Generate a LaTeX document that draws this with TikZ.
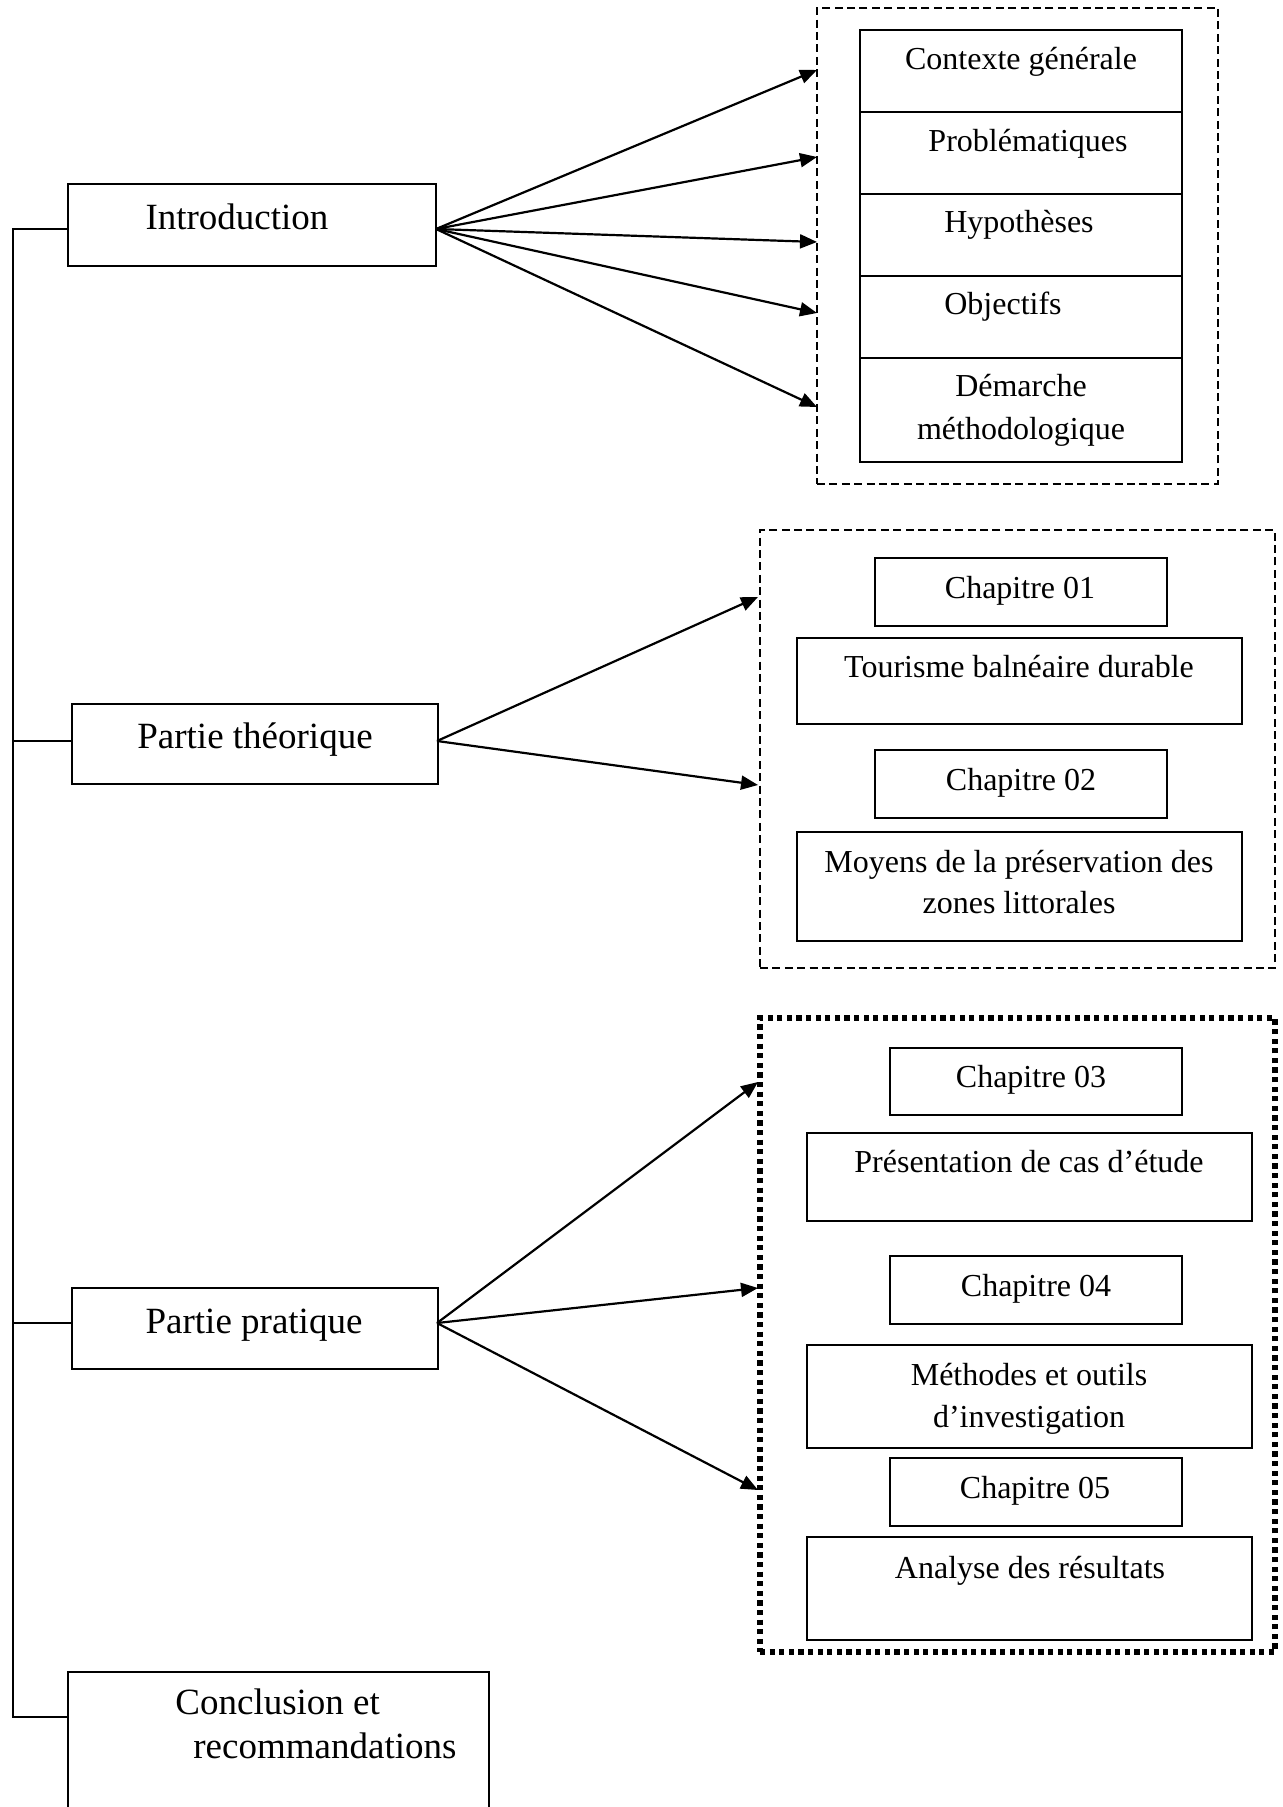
\documentclass[tikz,border=0pt]{standalone}
\usepackage{fontspec}
\setmainfont{Liberation Serif}
\usetikzlibrary{arrows.meta}
\begin{document}
\begin{tikzpicture}[x=0.5pt,y=-0.5pt,
  box/.style={draw, line width=1pt, rectangle, inner sep=0pt},
  cell/.style={draw, line width=1pt, rectangle, inner sep=0pt, minimum width=161pt},
  chapbox/.style={draw, line width=1pt, rectangle, inner sep=0pt, minimum width=146pt, minimum height=34pt},
  widebox/.style={draw, line width=1pt, rectangle, inner sep=0pt, minimum width=222.5pt},
  dashgrp/.style={draw, line width=0.7pt, dash pattern=on 4pt off 2.2pt, rectangle, inner sep=0pt},
  dotgrp/.style={draw, line width=2.7pt, dash pattern=on 2.6pt off 2.2pt, rectangle, inner sep=0pt},
  arr/.style={line width=1.1pt, -{Triangle[length=8.5pt,width=7pt]}},
  branch/.style={line width=0.8pt},
  bigtxt/.style={anchor=base, inner sep=0pt, font=\fontsize{18.5}{22}\selectfont},
  smalltxt/.style={anchor=base, inner sep=0pt, font=\fontsize{16}{20}\selectfont}]
\useasboundingbox (0,0) rectangle (1282,1807);
\clip (0,0) rectangle (1282,1807);
\fill[white] (0,0) rectangle (1282,1807);

% main boxes
\node[box, minimum width=184pt, minimum height=41pt] (intro) at (252,225) {};
\node[box, minimum width=183pt, minimum height=40pt] (theo) at (255,744) {};
\node[box, minimum width=183pt, minimum height=40.5pt] (prat) at (255,1328.5) {};
\node[box, minimum width=210.5pt, minimum height=89pt] (concl) at (278.5,1761) {};

\node[bigtxt] (introT) at (237,230) {Introduction};
\node[bigtxt] (theoT) at (255,748) {Partie théorique};
\node[bigtxt] (pratT) at (254,1333) {Partie pratique};
\node[bigtxt, anchor=base west] (conclA) at (175,1714) {Conclusion et};
\node[bigtxt, anchor=base west] (conclB) at (193,1758) {recommandations};

% left spine
\coordinate (b1) at (12,229);
\coordinate (b2) at (12,741);
\coordinate (b3) at (12,1323);
\coordinate (b4) at (12,1717);
\draw[branch] (13,229) -- (13,1717);
\draw[branch] (b1) -- (b1 -| intro.west);
\draw[branch] (b2) -- (b2 -| theo.west);
\draw[branch] (b3) -- (b3 -| prat.west);
\draw[branch] (b4) -- (b4 -| concl.west);

% group 1
\node[dashgrp, minimum width=200.5pt, minimum height=238pt] (grp1) at (1017.5,246) {};
\node[cell, minimum height=41pt] (c1) at (1021,71) {};
\node[cell, minimum height=41pt] (c2) at (1021,153) {};
\node[cell, minimum height=41pt] (c3) at (1021,235) {};
\node[cell, minimum height=41pt] (c4) at (1021,317) {};
\node[cell, minimum height=52pt] (c5) at (1021,410) {};
\node[smalltxt] (c1T) at (1021,70) {Contexte générale};
\node[smalltxt] (c2T) at (1028,152) {Problématiques};
\node[smalltxt] (c3T) at (1019,233) {Hypothèses};
\node[smalltxt] (c4T) at (1003,315) {Objectifs};
\node[smalltxt] (c5A) at (1021,397) {Démarche};
\node[smalltxt] (c5B) at (1021,440) {méthodologique};

\coordinate (s1) at (436,229);
\coordinate (t11) at (817,70);
\coordinate (t12) at (817,157);
\coordinate (t13) at (817,242);
\coordinate (t14) at (817,313);
\coordinate (t15) at (817,407);
\draw[arr] (s1) -- (t11);
\draw[arr] (s1) -- (t12);
\draw[arr] (s1) -- (t13);
\draw[arr] (s1) -- (t14);
\draw[arr] (s1) -- (t15);

% group 2
\node[dashgrp, minimum width=257.5pt, minimum height=219pt] (grp2) at (1017.5,749) {};
\node[chapbox] (ch1) at (1021,592) {};
\node[widebox, minimum height=43pt] (tour) at (1019.5,681) {};
\node[chapbox] (ch2) at (1021,784) {};
\node[widebox, minimum height=54.5pt] (moy) at (1019.5,886.5) {};
\node[smalltxt] (ch1T) at (1020,598) {Chapitre 01};
\node[smalltxt] (tourT) at (1019,677) {Tourisme balnéaire durable};
\node[smalltxt] (ch2T) at (1021,790) {Chapitre 02};
\node[smalltxt] (moyA) at (1019,872) {Moyens de la préservation des};
\node[smalltxt] (moyB) at (1019,913) {zones littorales};

\coordinate (s2) at (437,741);
\coordinate (t21) at (758,597);
\coordinate (t22) at (758,785);
\draw[arr] (s2) -- (t21);
\draw[arr] (s2) -- (t22);

% group 3
\node[dotgrp, minimum width=257.5pt, minimum height=317pt] (grp3) at (1017.5,1335) {};
\node[chapbox, minimum height=33.5pt] (ch3) at (1036,1081.5) {};
\node[widebox, minimum height=44pt] (pres) at (1029.5,1177) {};
\node[chapbox] (ch4) at (1036,1290) {};
\node[widebox, minimum height=51.5pt] (meth) at (1029.5,1396.5) {};
\node[chapbox] (ch5) at (1036,1492) {};
\node[widebox, minimum height=51.5pt] (ana) at (1029.5,1588.5) {};
\node[smalltxt] (ch3T) at (1031,1087) {Chapitre 03};
\node[smalltxt] (presT) at (1029,1172) {Présentation de cas d’étude};
\node[smalltxt] (ch4T) at (1036,1296) {Chapitre 04};
\node[smalltxt] (methA) at (1029,1385) {Méthodes et outils};
\node[smalltxt] (methB) at (1029,1427) {d’investigation};
\node[smalltxt] (ch5T) at (1035,1498) {Chapitre 05};
\node[smalltxt] (anaT) at (1030,1578) {Analyse des résultats};

\coordinate (s3) at (437,1323);
\coordinate (t31) at (758,1082);
\coordinate (t32) at (758,1288);
\coordinate (t33) at (758,1490);
\draw[arr] (s3) -- (t31);
\draw[arr] (s3) -- (t32);
\draw[arr] (s3) -- (t33);
\end{tikzpicture}
\end{document}
